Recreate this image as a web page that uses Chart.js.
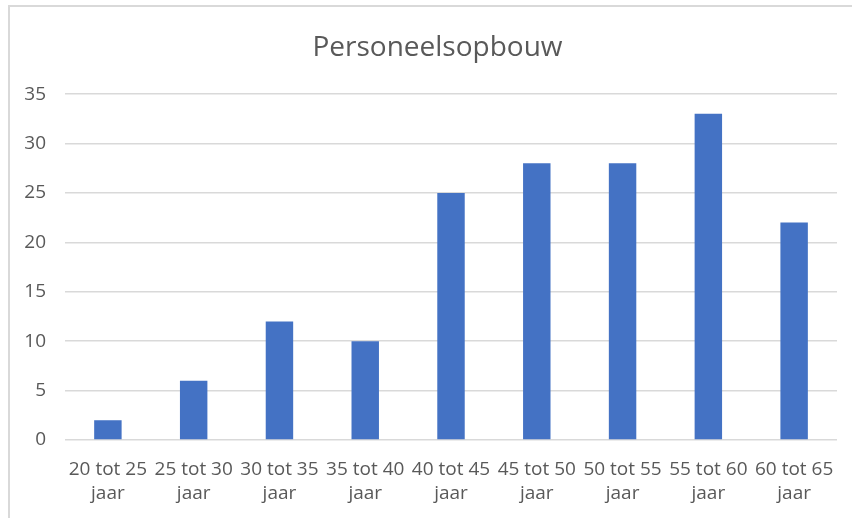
<!DOCTYPE html>
<html>
<head>
<meta charset="utf-8">
<script src="https://cdn.jsdelivr.net/npm/chart.js@4/dist/chart.umd.min.js"></script>
<style>
  html, body { margin: 0; padding: 0; background: #fff; }
  #wrap { position: relative; width: 852px; height: 518px; overflow: hidden; }
  #frame { position: absolute; left: 8px; top: 5px; right: -10px; bottom: -10px;
           border-left: 2px solid #d9d9d9; border-top: 2px solid #d9d9d9; }
  canvas { position: absolute; left: 0; top: 0; }
</style>
</head>
<body>
<div id="wrap">
  <div id="frame"></div>
  <canvas id="c" width="852" height="518"></canvas>
</div>
<script>
const chartTitle = "Personeelsopbouw";
const categories = [
  ["20 tot 25", "jaar"], ["25 tot 30", "jaar"], ["30 tot 35", "jaar"],
  ["35 tot 40", "jaar"], ["40 tot 45", "jaar"], ["45 tot 50", "jaar"],
  ["50 tot 55", "jaar"], ["55 tot 60", "jaar"], ["60 tot 65", "jaar"]
];
const values = [2, 6, 12, 10, 25, 28, 28, 33, 22];
const yTicks = { min: 0, max: 35, step: 5 };

const FONT = "'Open Sans', 'Noto Sans', sans-serif";
const TXT = "#595959";
const GRID = "#d9d9d9";

// shift the title box so it is centred over the framed chart, like the reference
const titleShift = {
  id: 'titleShift',
  afterLayout(chart) {
    if (chart.titleBlock) { chart.titleBlock.left += 36; }
  }
};

new Chart(document.getElementById('c'), {
  type: 'bar',
  data: {
    labels: categories,
    datasets: [{
      data: values,
      backgroundColor: '#4472c4',
      borderWidth: 0,
      categoryPercentage: 1.0,
      barPercentage: 0.32
    }]
  },
  plugins: [titleShift],
  options: {
    responsive: false,
    animation: false,
    devicePixelRatio: 1,
    layout: { padding: { left: 0, right: 13, top: 1, bottom: 0 } },
    plugins: {
      legend: { display: false },
      tooltip: { enabled: false },
      title: {
        display: true,
        text: chartTitle,
        color: TXT,
        font: { family: FONT, size: 28, weight: 'normal', lineHeight: 1.2 },
        padding: { top: 30, bottom: 29.5 }
      }
    },
    scales: {
      x: {
        grid: { display: false, drawTicks: false },
        border: { display: false },
        ticks: {
          color: TXT,
          font: { family: FONT, size: 19, lineHeight: 1.26 },
          padding: 18,
          maxRotation: 0,
          autoSkip: false
        },
        afterFit: (s) => { s.height = 78; }
      },
      y: {
        min: yTicks.min,
        max: yTicks.max,
        grid: { color: GRID, lineWidth: 1.5, drawTicks: false },
        border: { display: false },
        ticks: {
          stepSize: yTicks.step,
          color: TXT,
          font: { family: FONT, size: 19 },
          padding: 19
        },
        afterFit: (s) => { s.width = 65; }
      }
    }
  }
});
</script>
</body>
</html>
